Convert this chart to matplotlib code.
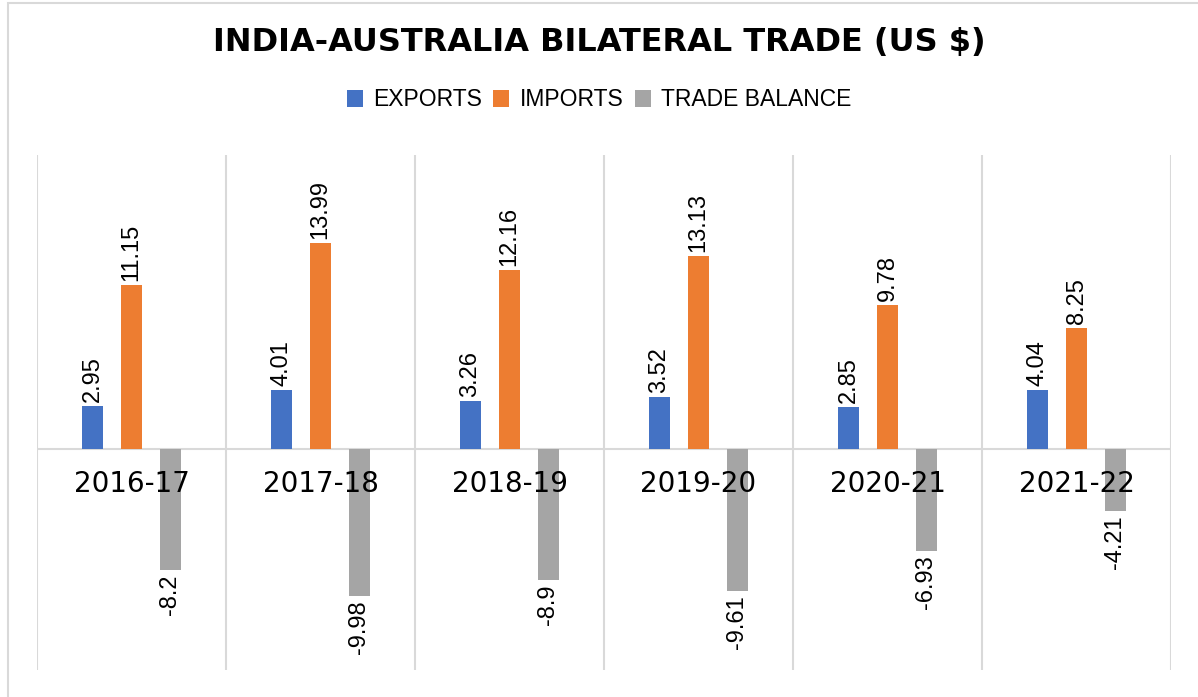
import numpy as np
import matplotlib.pyplot as plt
from matplotlib.patches import Rectangle

plt.rcParams['font.family'] = ['Liberation Sans', 'DejaVu Sans']

years = ['2016-17', '2017-18', '2018-19', '2019-20', '2020-21', '2021-22']
exports = [2.95, 4.01, 3.26, 3.52, 2.85, 4.04]
imports = [11.15, 13.99, 12.16, 13.13, 9.78, 8.25]
trade_balance = [-8.2, -9.98, -8.9, -9.61, -6.93, -4.21]

series = [('EXPORTS', exports, '#4472C4'),
          ('IMPORTS', imports, '#ED7D31'),
          ('TRADE BALANCE', trade_balance, '#A5A5A5')]

W, H = 1198, 697
fig = plt.figure(figsize=(W / 100, H / 100), dpi=100)
ax = fig.add_axes([37 / W, 1 - 670 / H, (1171 - 37) / W, (670 - 155) / H])

x = np.arange(len(years))
width = 0.111
offset = 0.206
for i, (name, vals, color) in enumerate(series):
    bars = ax.bar(x + (i - 1) * offset, vals, width, color=color, label=name, zorder=3)
    for b, v in zip(bars, vals):
        lbl = f'{v:g}'
        if v >= 0:
            ax.annotate(lbl, (b.get_x() + b.get_width() / 2, v), xytext=(0, 3),
                        textcoords='offset points', rotation=90, ha='center', va='bottom',
                        fontsize=17, color='#000000')
        else:
            ax.annotate(lbl, (b.get_x() + b.get_width() / 2, v), xytext=(0, -3),
                        textcoords='offset points', rotation=90, ha='center', va='top',
                        fontsize=17, color='#000000')

ax.set_xlim(-0.5, len(years) - 0.5)
ax.set_ylim(-15, 20)

# category dividers
for b in np.arange(-0.5, len(years)):
    ax.axvline(b, color='#D9D9D9', lw=1.5, zorder=1)

ax.axhline(0, color='#D9D9D9', lw=1.5, zorder=2)
for s in ax.spines.values():
    s.set_visible(False)
ax.set_yticks([])
ax.spines['bottom'].set_position(('data', 0))
ax.set_xticks(x)
ax.set_xticklabels(years)
ax.tick_params(axis='x', length=0, pad=15)
ax.xaxis.set_zorder(5)  # year labels sit on top of the grey bars
for t in ax.get_xticklabels():
    t.set_fontsize(20)
    t.set_family('DejaVu Sans')

fig.text(0.5, 1 - 42 / H, 'INDIA-AUSTRALIA BILATERAL TRADE (US $)', ha='center', va='center',
         fontsize=23, fontweight='bold', family='DejaVu Sans')

fig.legend(loc='center', bbox_to_anchor=(0.5, 1 - 100 / H), ncol=3, frameon=False,
           fontsize=16.5, handlelength=0.7, handleheight=0.7, handletextpad=0.45,
           columnspacing=0.5)

# chart border (left and top edges visible)
fig.patches.append(Rectangle((8 / W, -0.1), 1.2, 1.1 - 3 / H, transform=fig.transFigure,
                             fill=False, edgecolor='#D9D9D9', lw=1.5))

fig.savefig('out.png', dpi=100)
